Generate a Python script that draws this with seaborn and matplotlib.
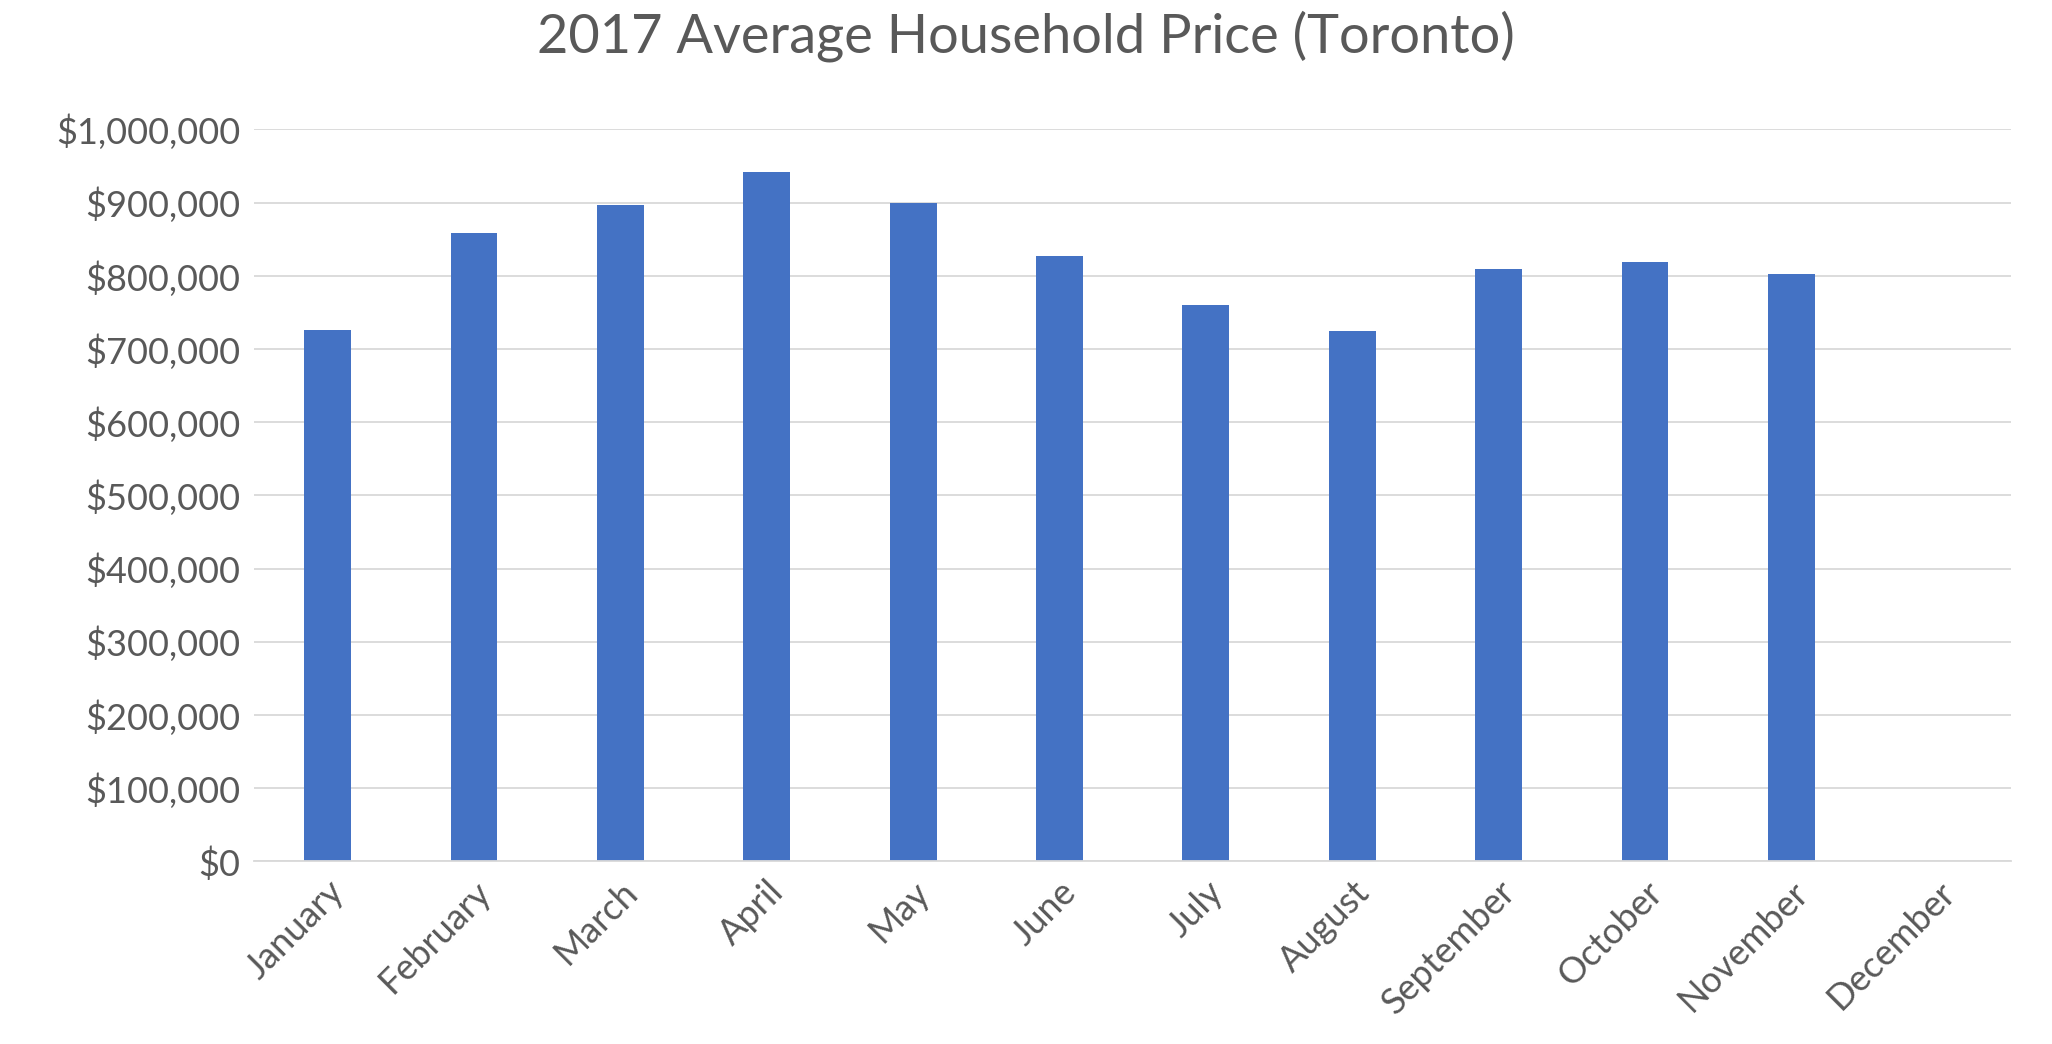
import matplotlib
matplotlib.use("Agg")
import matplotlib.pyplot as plt
import seaborn as sns
import pandas as pd
from matplotlib.ticker import FuncFormatter, MultipleLocator

months = ["January","February","March","April","May","June","July","August",
          "September","October","November","December"]
prices = [726000, 859000, 897000, 942000, 899000, 827000, 760000, 724000,
          809000, 819000, 803000, float("nan")]

df = pd.DataFrame({"Month": months, "Price": prices})
plt.rcParams["font.family"] = "Lato"
grey = "#595959"

fig = plt.figure(figsize=(20.52, 10.44), dpi=100)
ax = fig.add_axes([0.124, 0.175, 0.856, 0.701])
sns.barplot(data=df, x="Month", y="Price", color="#4472C4", saturation=1,
            width=0.32, ax=ax, order=months)
ax.set_ylim(0, 1000000)
ax.set_xlim(-0.5, 11.5)
ax.yaxis.set_major_locator(MultipleLocator(100000))
ax.yaxis.set_major_formatter(FuncFormatter(lambda v, p: f"${v:,.0f}"))
ax.grid(axis="y", color="#D9D9D9", linewidth=1.3)
ax.set_axisbelow(True)
for s in ["top", "right", "left"]:
    ax.spines[s].set_visible(False)
ax.spines["bottom"].set_color("#D9D9D9")
ax.spines["bottom"].set_linewidth(1.3)
ax.tick_params(axis="both", length=0, labelsize=26, labelcolor=grey, pad=10)
plt.setp(ax.get_xticklabels(), rotation=45, ha="right", rotation_mode="anchor")
ax.set_xlabel("")
ax.set_ylabel("")
fig.suptitle("2017 Average Household Price (Toronto)", y=0.99, fontsize=39, color=grey)
fig.savefig("out.png", dpi=100)
